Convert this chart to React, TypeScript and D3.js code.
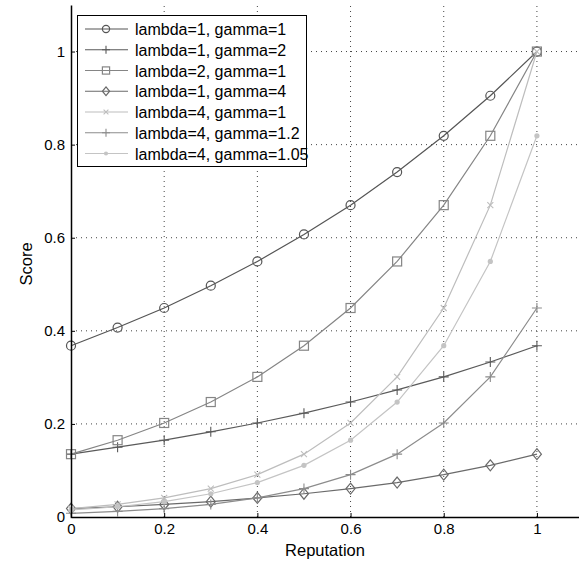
import { useRef, useEffect } from "react";
import * as d3 from "d3";

const reputation = [0, 0.1, 0.2, 0.3, 0.4, 0.5, 0.6, 0.7, 0.8, 0.9, 1];
const xTicks = [0, 0.2, 0.4, 0.6, 0.8, 1];
const yTicks = [0, 0.2, 0.4, 0.6, 0.8, 1];

const l1g1 = [0.368, 0.407, 0.449, 0.497, 0.549, 0.607, 0.670, 0.741, 0.819, 0.905, 1];
const l1g2 = [0.135, 0.150, 0.165, 0.183, 0.202, 0.223, 0.247, 0.273, 0.301, 0.333, 0.368];
const l2g1 = [0.135, 0.165, 0.202, 0.247, 0.301, 0.368, 0.449, 0.549, 0.670, 0.819, 1];
const l1g4 = [0.018, 0.022, 0.027, 0.033, 0.041, 0.050, 0.061, 0.074, 0.091, 0.111, 0.135];
const l4g1 = [0.018, 0.027, 0.041, 0.061, 0.091, 0.135, 0.202, 0.301, 0.449, 0.670, 1];
const l4g12 = [0.008, 0.012, 0.018, 0.027, 0.041, 0.061, 0.091, 0.135, 0.202, 0.301, 0.449];
const l4g105 = [0.015, 0.022, 0.033, 0.050, 0.074, 0.111, 0.165, 0.247, 0.368, 0.549, 0.819];

const seriesNames = [
  "lambda=1, gamma=1",
  "lambda=1, gamma=2",
  "lambda=2, gamma=1",
  "lambda=1, gamma=4",
  "lambda=4, gamma=1",
  "lambda=4, gamma=1.2",
  "lambda=4, gamma=1.05",
];
const seriesValues = [l1g1, l1g2, l2g1, l1g4, l4g1, l4g12, l4g105];
const seriesColors = ["#555555", "#5a5a5a", "#858585", "#6a6a6a", "#bdbdbd", "#8c8c8c", "#c4c4c4"];
const seriesMarkers = ["circle", "plus", "square", "diamond", "x", "plus", "dot"];

const W = 579, H = 563;
const m = { left: 71, top: 5, bottom: 517, right: 583.5 };

// s scales the marker (legend uses smaller ones)
function drawMarker(g: any, kind: string, cx: number, cy: number, color: string, s = 1) {
  if (kind === "circle") {
    g.append("circle").attr("cx", cx).attr("cy", cy).attr("r", 4.5 * s)
      .attr("fill", "none").attr("stroke", color).attr("stroke-width", 1.2);
  } else if (kind === "square") {
    g.append("rect").attr("x", cx - 4.5 * s).attr("y", cy - 4.5 * s).attr("width", 9 * s).attr("height", 9 * s)
      .attr("fill", "none").attr("stroke", color).attr("stroke-width", 1.2);
  } else if (kind === "diamond") {
    g.append("path").attr("d", `M${cx},${cy - 5.5 * s}L${cx + 4.5 * s},${cy}L${cx},${cy + 5.5 * s}L${cx - 4.5 * s},${cy}Z`)
      .attr("fill", "none").attr("stroke", color).attr("stroke-width", 1.2);
  } else if (kind === "plus") {
    g.append("path").attr("d", `M${cx - 5 * s},${cy}H${cx + 5 * s}M${cx},${cy - 5 * s}V${cy + 5 * s}`)
      .attr("stroke", color).attr("stroke-width", 1.1);
  } else if (kind === "x") {
    g.append("path").attr("d", `M${cx - 3 * s},${cy - 3 * s}L${cx + 3 * s},${cy + 3 * s}M${cx - 3 * s},${cy + 3 * s}L${cx + 3 * s},${cy - 3 * s}`)
      .attr("stroke", color).attr("stroke-width", 1.1);
  } else if (kind === "dot") {
    g.append("circle").attr("cx", cx).attr("cy", cy).attr("r", 2.6 * s).attr("fill", color);
  }
}

export default function App() {
  const root = useRef<SVGSVGElement>(null);

  useEffect(() => {
    const svg = d3.select(root.current);
    svg.selectAll("*").remove();
    const x = d3.scaleLinear([0, 1.1], [m.left, m.right]);
    const y = d3.scaleLinear([0, 1.1], [m.bottom, m.top]);
    const font = "Liberation Sans, Arial, sans-serif";

    svg.append("rect").attr("width", W).attr("height", H).attr("fill", "#fff");

    // grid
    const grid = svg.append("g").attr("stroke", "#444").attr("stroke-width", 1).attr("stroke-dasharray", "1,4");
    xTicks.slice(1).forEach(t => {
      grid.append("line").attr("x1", x(t)).attr("x2", x(t)).attr("y1", m.bottom).attr("y2", m.top);
    });
    yTicks.slice(1).forEach(t => {
      grid.append("line").attr("y1", y(t)).attr("y2", y(t)).attr("x1", m.left).attr("x2", m.right);
    });

    // lines + markers
    const line = d3.line<number>().x((_, i) => x(reputation[i])).y(d => y(d));
    seriesValues.forEach((vals, si) => {
      const g = svg.append("g");
      g.append("path").attr("d", line(vals)).attr("fill", "none")
        .attr("stroke", seriesColors[si]).attr("stroke-width", 1.2);
      vals.forEach((v, i) => drawMarker(g, seriesMarkers[si], x(reputation[i]), y(v), seriesColors[si]));
    });

    // axes
    const xAxis = svg.append("g").attr("transform", `translate(0,${m.bottom})`)
      .call(d3.axisBottom(x).tickValues(xTicks).tickSizeInner(-4).tickSizeOuter(0).tickPadding(6).tickFormat(d3.format("")));
    const yAxis = svg.append("g").attr("transform", `translate(${m.left},0)`)
      .call(d3.axisLeft(y).tickValues(yTicks).tickSizeInner(-4).tickSizeOuter(0).tickPadding(6).tickFormat(d3.format("")));
    [xAxis, yAxis].forEach(a => {
      a.select(".domain").attr("stroke", "#000").attr("stroke-width", 1.5);
      a.selectAll(".tick line").attr("stroke", "#000");
      a.selectAll("text").attr("font-family", font).attr("font-size", 15).attr("fill", "#000");
    });

    svg.append("text").attr("x", 325).attr("y", 556).attr("text-anchor", "middle")
      .attr("font-family", font).attr("font-size", 16.5).text("Reputation");
    svg.append("text").attr("transform", `translate(32,${(m.top + m.bottom) / 2 + 3}) rotate(-90)`)
      .attr("text-anchor", "middle").attr("font-family", font).attr("font-size", 16.5).text("Score");

    // legend
    const lg = svg.append("g");
    lg.append("rect").attr("x", 77.5).attr("y", 15.5).attr("width", 229).attr("height", 151)
      .attr("fill", "#fff").attr("stroke", "#000").attr("stroke-width", 1);
    seriesNames.forEach((name, i) => {
      const cy = 29 + i * 20.75;
      lg.append("line").attr("x1", 85).attr("x2", 128).attr("y1", cy).attr("y2", cy)
        .attr("stroke", seriesColors[i]).attr("stroke-width", 1.2);
      drawMarker(lg, seriesMarkers[i], 106, cy, seriesColors[i], 0.8);
      lg.append("text").attr("x", 135).attr("y", cy + 6).attr("font-family", font)
        .attr("font-size", 16).attr("fill", "#000").text(name);
    });
  }, []);

  return (
    <svg ref={root} width={W} height={H} style={{ position: "fixed", left: 0, top: 0 }} />
  );
}
